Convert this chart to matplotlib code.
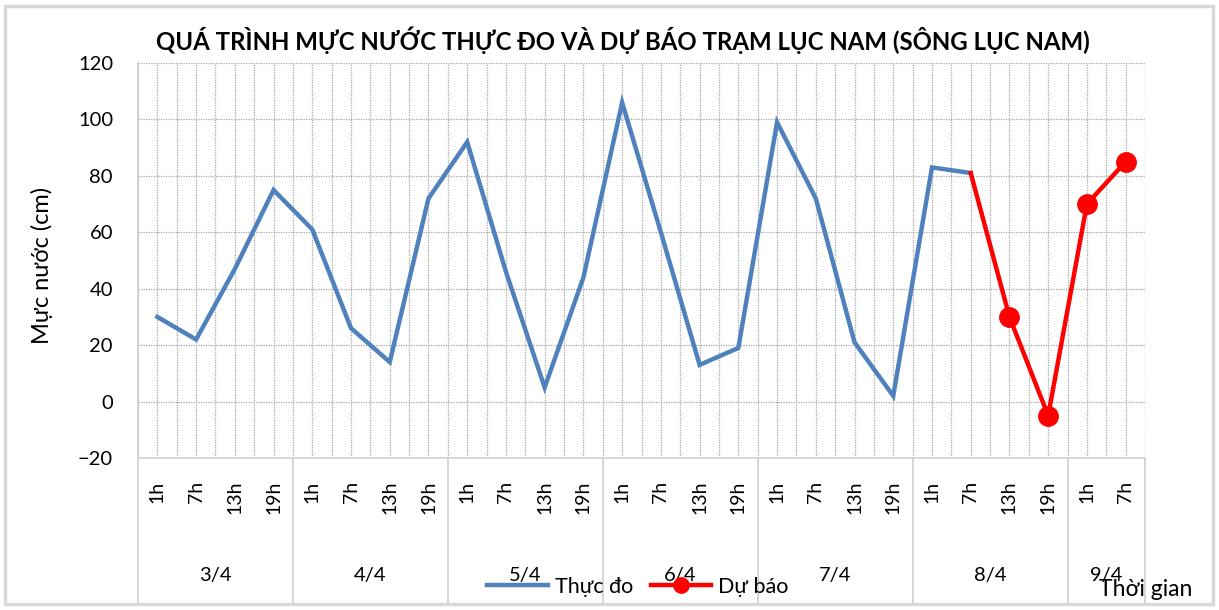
import numpy as np
import matplotlib
matplotlib.use("Agg")
from matplotlib import pyplot as plt
from matplotlib.lines import Line2D
from matplotlib.patches import Rectangle
import matplotlib.transforms as mtransforms

plt.rcParams['font.family'] = ['Lato', 'DejaVu Sans']

# data
days = ["3/4", "4/4", "5/4", "6/4", "7/4", "8/4", "9/4"]
hours = ["1h", "7h", "13h", "19h"]
hours_per_day = [4, 4, 4, 4, 4, 4, 2]
observed = [30, 22, 47, 75, 61, 26, 14, 72, 92, 46, 5, 44,
            106, 60, 13, 19, 99, 72, 21, 2, 83, 81]
# forecast starts from the last observed point (8/4 7h)
forecast_start = 21
forecast = [81, 30, -5, 70, 85]

labels = []
for d, n in zip(days, hours_per_day):
    labels += hours[:n]
n_cat = len(labels)

W, H = 1219, 610
fig = plt.figure(figsize=(W / 100, H / 100), dpi=100)
ax = fig.add_axes([138 / W, 1 - 458 / H, (1145 - 138) / W, (458 - 63) / H])

x_obs = np.arange(len(observed)) + 0.5
x_fc = np.arange(forecast_start, forecast_start + len(forecast)) + 0.5

ax.plot(x_obs, observed, color="#4f81bd", lw=3.2, solid_joinstyle="miter", zorder=3)
ax.plot(x_fc, forecast, color="#ff0000", lw=3.2, marker="o", markersize=14,
        markevery=list(range(1, len(forecast))), zorder=4)

ax.set_xlim(0, n_cat)
ax.set_ylim(-20, 120)
ax.set_yticks(np.arange(-20, 121, 20))
ax.tick_params(axis="y", length=0, pad=18, labelsize=14.5)
ax.set_xticks(np.arange(0, n_cat + 0.1, 0.5))
ax.tick_params(axis="x", length=0, labelbottom=False)
ax.grid(True, color="#a6a6a6", linestyle=(0, (1, 1)), lw=0.9)
ax.set_axisbelow(True)
for s in ["top", "right"]:
    ax.spines[s].set_visible(False)
for s in ["left", "bottom"]:
    ax.spines[s].set_color("#d0d0d0")
    ax.spines[s].set_linewidth(1.2)

# category labels
trans = mtransforms.blended_transform_factory(ax.transData, fig.transFigure)
for i, lab in enumerate(labels):
    ax.text(i + 0.5, 1 - 481 / H, lab, rotation=90, ha="center", va="top",
            fontsize=14, transform=trans)

# day labels and separators
pos = 0
for d, n in zip(days, hours_per_day):
    ax.text(pos + n / 2, 1 - 575 / H, d, ha="center", va="center",
            fontsize=14.5, transform=trans)
    pos += n
for b in np.cumsum([0] + hours_per_day):
    ax.add_line(Line2D([b, b], [1 - 458 / H, 1 - 603 / H], transform=trans,
                       color="#d0d0d0", lw=1.2, clip_on=False))

fig.text(623 / W, 1 - 40 / H,
         "QUÁ TRÌNH MỰC NƯỚC THỰC ĐO VÀ DỰ BÁO TRẠM LỤC NAM (SÔNG LỤC NAM)",
         ha="center", va="center", fontsize=17.3, fontweight="bold")
fig.text(42 / W, 1 - 265 / H, "Mực nước (cm)", rotation=90, ha="center",
         va="center", fontsize=17)
fig.text(1146 / W, 1 - 590 / H, "Thời gian", ha="center", va="center", fontsize=16.5)

handles = [Line2D([], [], color="#4f81bd", lw=3.2),
           Line2D([], [], color="#ff0000", lw=3.2, marker="o", markersize=11)]
fig.legend(handles, ["Thực đo", "Dự báo"], loc="center", bbox_to_anchor=(638 / W, 1 - 587 / H),
           ncol=2, frameon=False, fontsize=15.5, handlelength=2.8, columnspacing=0.8,
           handletextpad=0.35)

fig.patches.append(Rectangle((5 / W, 1 - 604 / H), 1208 / W, 598 / H,
                             transform=fig.transFigure, fill=False,
                             edgecolor="#d9d9d9", lw=2.5))

fig.savefig("out.png", dpi=100)
